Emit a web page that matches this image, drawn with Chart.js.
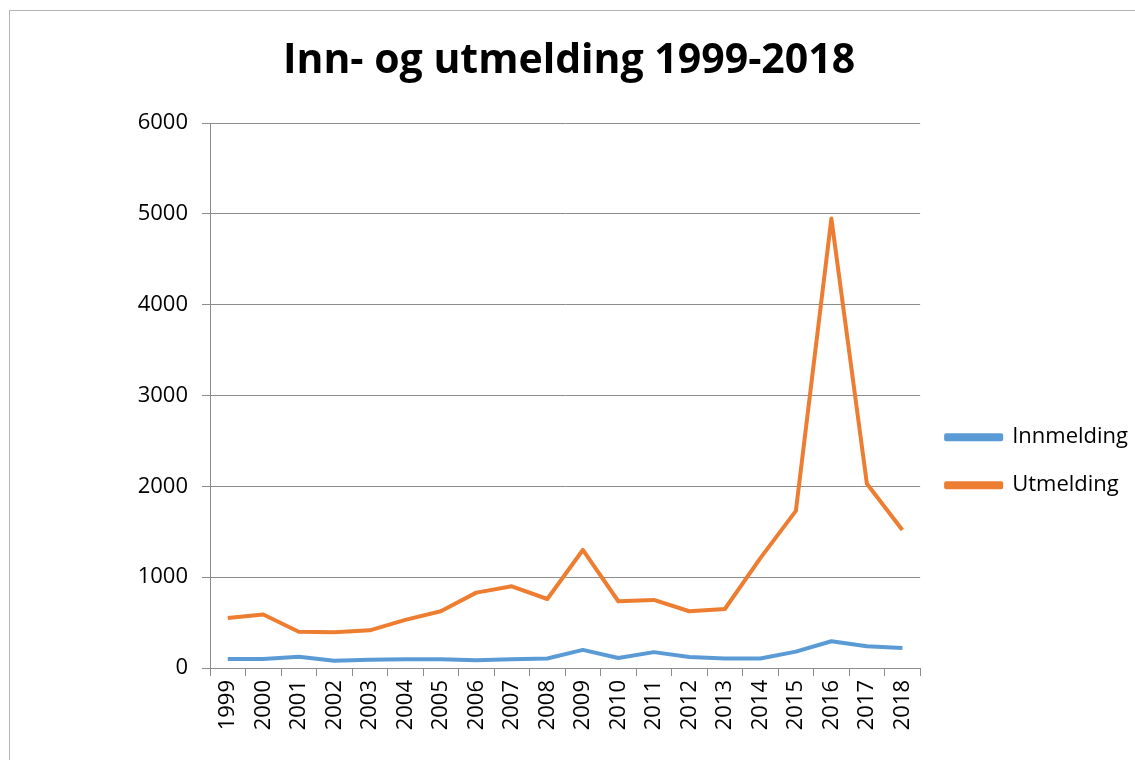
<!DOCTYPE html>
<html>
<head>
<meta charset="utf-8">
<script src="https://cdn.jsdelivr.net/npm/chart.js@4.4.1/dist/chart.umd.min.js"></script>
<style>
  html, body { margin: 0; padding: 0; background: #fff; }
  #wrap { position: relative; width: 1135px; height: 760px; overflow: hidden; }
  #frame { position: absolute; left: 9px; top: 10px; width: 1140px; height: 770px; border: 1px solid #b4b4b4; box-sizing: border-box; }
  #chart { position: absolute; left: 0; top: 0; }
</style>
</head>
<body>
<div id="wrap">
  <div id="frame"></div>
  <canvas id="chart" width="1135" height="760"></canvas>
</div>
<script>
const years = ["1999", "2000", "2001", "2002", "2003", "2004", "2005", "2006", "2007", "2008",
  "2009", "2010", "2011", "2012", "2013", "2014", "2015", "2016", "2017", "2018"];
const innmelding = [100, 100, 125, 80, 90, 95, 95, 85, 95, 105,
  200, 110, 175, 120, 105, 105, 180, 295, 240, 220];
const utmelding = [550, 590, 400, 395, 415, 530, 625, 830, 900, 760,
  1300, 735, 750, 625, 650, 1210, 1730, 4950, 2030, 1520];
const yTicks = [0, 1000, 2000, 3000, 4000, 5000, 6000];

const font = "'Open Sans', sans-serif";
const gridColor = "#8c8c8c";

const ctx = document.getElementById("chart").getContext("2d");
new Chart(ctx, {
  type: "line",
  data: {
    labels: years,
    datasets: [
      {
        label: "Innmelding",
        data: innmelding,
        borderColor: "#5B9BD5",
        backgroundColor: "#5B9BD5",
        borderWidth: 4,
        pointRadius: 0,
        tension: 0,
        borderJoinStyle: "round",
      },
      {
        label: "Utmelding",
        data: utmelding,
        borderColor: "#ED7D31",
        backgroundColor: "#ED7D31",
        borderWidth: 4,
        pointRadius: 0,
        tension: 0,
        borderJoinStyle: "round",
      },
    ],
  },
  options: {
    responsive: false,
    animation: false,
    layout: { padding: { left: 0, right: -3, top: 0, bottom: 0 } },
    plugins: {
      title: {
        display: true,
        text: "Inn- og utmelding 1999-2018",
        color: "#000",
        font: { family: font, size: 41, weight: "bold" },
        padding: { top: 37, bottom: 37 },
      },
      legend: {
        position: "right",
        title: { display: true, text: "", padding: 74 },
        labels: {
          color: "#000",
          font: { family: font, size: 22 },
          boxWidth: 55,
          boxHeight: 4,
          padding: 26,
        },
      },
      tooltip: { enabled: false },
    },
    scales: {
      x: {
        offset: true,
        grid: {
          offset: true,
          drawOnChartArea: false,
          drawTicks: true,
          tickLength: 8,
          color: gridColor,
        },
        border: { color: gridColor },
        ticks: {
          color: "#000",
          font: { family: font, size: 22 },
          minRotation: 90,
          maxRotation: 90,
          padding: 4,
          autoSkip: false,
        },
        afterFit: function (scale) { scale.height = 92; },
      },
      y: {
        min: 0,
        max: 6000,
        grid: { color: gridColor, tickLength: 8 },
        border: { color: gridColor },
        afterBuildTicks: function (scale) {
          scale.ticks = yTicks.map((v) => ({ value: v }));
        },
        ticks: {
          color: "#000",
          font: { family: font, size: 22 },
          padding: 14,
          callback: function (value) { return String(value); },
        },
        afterFit: function (scale) { scale.width = 210; },
      },
    },
  },
});
</script>
</body>
</html>
